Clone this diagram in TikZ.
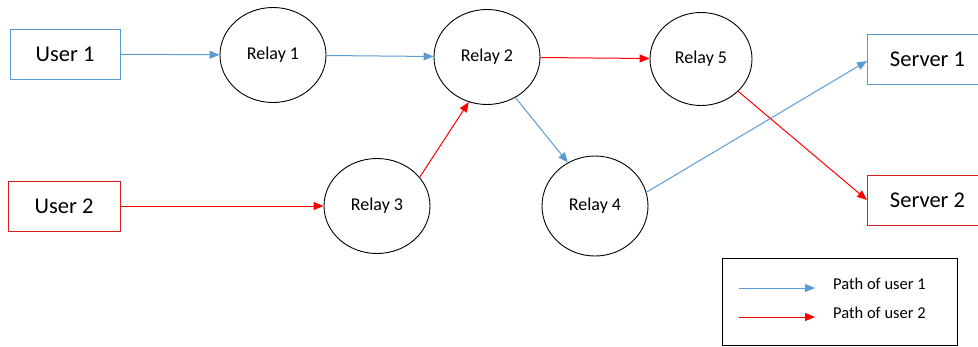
\documentclass[tikz,border=0pt]{standalone}
\usepackage{fontspec}
\setmainfont{Carlito}
\usetikzlibrary{arrows.meta,shapes.geometric}
\definecolor{pathblue}{RGB}{91,155,213}
\definecolor{pathred}{RGB}{255,0,0}
\definecolor{boxred}{RGB}{215,30,30}
\tikzset{
  relay/.style={draw=black, line width=0.9pt, ellipse, minimum width=106pt, minimum height=95pt, inner sep=0pt, font=\fontsize{18}{20}\selectfont},
  endbox/.style={rectangle, line width=1pt, minimum width=110pt, minimum height=50pt, inner sep=0pt, font=\fontsize{22.5}{25}\selectfont},
  blueflow/.style={draw=pathblue, line width=1pt, -{Triangle[length=10pt,width=8pt]}},
  redflow/.style={draw=pathred, line width=1pt, -{Triangle[length=10pt,width=8pt]}},
  legendtext/.style={anchor=west, inner sep=0pt, font=\fontsize{16.5}{18}\selectfont},
}
\begin{document}
\begin{tikzpicture}[x=1pt, y=-1pt]
  \useasboundingbox (0,0) rectangle (978,346);
  % sources and destinations (server boxes run past the right edge)
  \node[endbox, draw=pathblue] (u1) at (65,54) {User 1};
  \node[endbox, draw=boxred, minimum width=112pt] (u2) at (64,206) {User 2};
  \node[endbox, draw=pathblue, anchor=west, minimum width=120pt] (s1) at (867,59) {Server 1};
  \node[endbox, draw=boxred, anchor=west, minimum width=120pt] (s2) at (867,200) {Server 2};
  % relays
  \node[relay] (r1) at (273,55) {Relay 1};
  \node[relay] (r2) at (487,57) {Relay 2};
  \node[relay, minimum width=102pt, minimum height=93pt] (r5) at (701,59) {Relay 5};
  \node[relay] (r3) at (377,206) {Relay 3};
  \node[relay, minimum height=100pt] (r4) at (595,206) {Relay 4};
  % path of user 1
  \draw[blueflow] (u1) -- (r1);
  \draw[blueflow] (r1) -- (r2);
  \draw[blueflow] (r2.305) -- (r4.122);
  \draw[blueflow] (r4.15) -- ([yshift=-2pt]s1.west);
  % path of user 2
  \draw[redflow] (u2) -- (r3);
  \draw[redflow] (r3.34) -- (r2.248);
  \draw[redflow] (r2) -- (r5);
  \draw[redflow] (r5.319) -- (s2.west);
  % legend
  \node[draw=black, line width=1pt, minimum width=235pt, minimum height=87pt, inner sep=0pt] (legend) at (839.5,301.5) {};
  \coordinate (l1a) at (739,288);
  \coordinate (l1b) at (815,288);
  \coordinate (l2a) at (739,317);
  \coordinate (l2b) at (815,317);
  \draw[blueflow] (l1a) -- (l1b);
  \draw[redflow] (l2a) -- (l2b);
  \node[legendtext] (t1) at (833,284) {Path of user 1};
  \node[legendtext] (t2) at (833,313) {Path of user 2};
\end{tikzpicture}
\end{document}
